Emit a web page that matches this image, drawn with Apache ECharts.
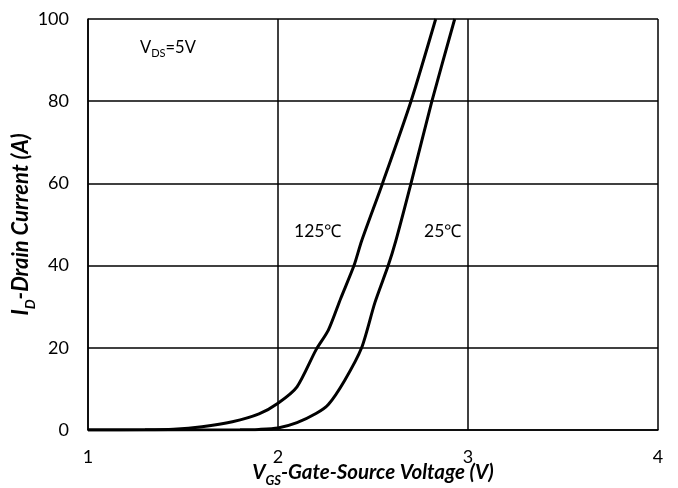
<!DOCTYPE html>
<html>
<head>
<meta charset="utf-8">
<script src="https://cdn.jsdelivr.net/npm/echarts@6/dist/echarts.min.js"></script>
<style>html,body{margin:0;padding:0;background:#fff}#c{width:678px;height:488px}</style>
</head>
<body>
<div id="c"></div>
<script>
// Gate voltage (V) and drain current (A)
const vgs125 = [1.0, 1.3, 1.45, 1.6, 1.76, 1.9, 2.0, 2.1, 2.2, 2.265, 2.33, 2.4, 2.44, 2.55, 2.7, 2.83];
const id125  = [0, 0.05, 0.2, 0.8, 2.0, 3.9, 6.5, 10.5, 19.5, 24.3, 32, 40, 46, 60, 80, 100];
const vgs25  = [1.0, 1.8, 1.9, 2.0, 2.1, 2.2, 2.265, 2.35, 2.44, 2.51, 2.58, 2.62, 2.7, 2.81, 2.93];
const id25   = [0, 0.05, 0.15, 0.5, 1.8, 4.0, 6.2, 12, 20, 31, 40, 46, 60, 80, 100];
const xTicks = [1, 2, 3, 4];
const yTicks = [0, 20, 40, 60, 80, 100];

const FONT = 'Lato, "Open Sans", sans-serif';
const pair = (xs, ys) => xs.map((x, i) => [x, ys[i]]);

const makeRich = (fs) => ({
  m: {fontSize: fs, fontWeight: 'bold', fontStyle: 'italic', color: '#000', fontFamily: FONT, lineHeight: fs + 2, verticalAlign: 'bottom'},
  s: {fontSize: Math.round(fs * 0.64), fontWeight: 'bold', fontStyle: 'italic', color: '#000', fontFamily: FONT, lineHeight: 13, verticalAlign: 'bottom', padding: [0, 0, -5, 0]}
});

const chart = echarts.init(document.getElementById('c'), null, {renderer: 'canvas'});
chart.setOption({
  animation: false,
  backgroundColor: '#fff',
  textStyle: {fontFamily: FONT},
  grid: {left: 88, top: 19, right: 20, bottom: 58, outerBoundsMode: 'none', containLabel: false},
  xAxis: {
    type: 'value', min: xTicks[0], max: xTicks[xTicks.length - 1], interval: 1,
    axisLine: {show: true, lineStyle: {color: '#000', width: 1.5}},
    axisTick: {show: false},
    axisLabel: {color: '#000', fontSize: 18, margin: 18, fontFamily: FONT},
    splitLine: {show: true, lineStyle: {color: '#000', width: 1.5}},
    name: '{m|V}{s|GS}{m|-Gate-Source Voltage (V)}',
    nameLocation: 'middle', nameGap: 30, nameMoveOverlap: false,
    nameTextStyle: {rich: makeRich(20.5)}
  },
  yAxis: {
    type: 'value', min: yTicks[0], max: yTicks[yTicks.length - 1], interval: 20,
    axisLine: {show: true, lineStyle: {color: '#000', width: 1.5}},
    axisTick: {show: false},
    axisLabel: {color: '#000', fontSize: 18, margin: 19, fontFamily: FONT},
    splitLine: {show: true, lineStyle: {color: '#000', width: 1.5}},
    name: '{m|I}{s|D}{m|-Drain Current (A)}',
    nameLocation: 'middle', nameGap: 56, nameMoveOverlap: false,
    nameTextStyle: {rich: makeRich(22)}
  },
  series: [
    {type: 'line', name: '125℃', data: pair(vgs125, id125), smooth: 0.25, showSymbol: false,
     lineStyle: {color: '#000', width: 3}, clip: true},
    {type: 'line', name: '25℃', data: pair(vgs25, id25), smooth: 0.25, showSymbol: false,
     lineStyle: {color: '#000', width: 3}, clip: true}
  ],
  graphic: [
    {type: 'text', left: 140, top: 39, style: {
      text: '{m|V}{s|DS}{m|=5V}',
      rich: {
        m: {fontSize: 16.5, fill: '#000', fontFamily: FONT, lineHeight: 18, verticalAlign: 'bottom'},
        s: {fontSize: 11, fill: '#000', fontFamily: FONT, lineHeight: 11, verticalAlign: 'bottom', padding: [0, 0, -3, 0]}
      }}},
    {type: 'text', left: 294, top: 222, style: {text: '125℃', fontSize: 17.5, fill: '#000', fontFamily: FONT}},
    {type: 'text', left: 424, top: 222, style: {text: '25℃', fontSize: 17.5, fill: '#000', fontFamily: FONT}}
  ]
});
</script>
</body>
</html>
